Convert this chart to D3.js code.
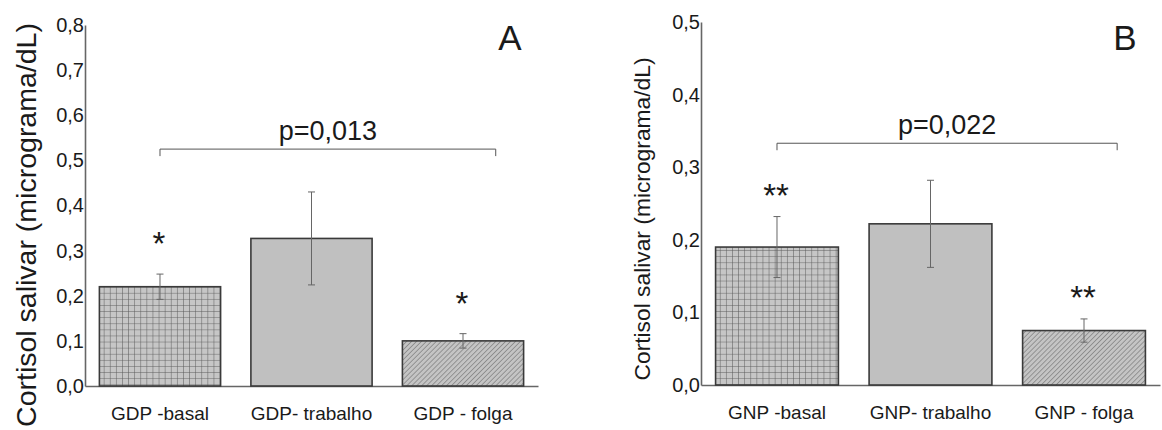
<!DOCTYPE html>
<html>
<head>
<meta charset="utf-8">
<script src="https://cdn.jsdelivr.net/npm/d3@7"></script>
<style>
  body { margin: 0; background: #fff; }
  text { font-family: "Liberation Sans", Arial, sans-serif; fill: #1a1a1a; }
</style>
</head>
<body>
<div id="chart"></div>
<script>
// data
let categoriesA = ["GDP -basal", "GDP- trabalho", "GDP - folga"];
let meansA = [0.22, 0.327, 0.10];
let errorsA = [0.028, 0.103, 0.016];
let starsA = ["*", "", "*"];
let ticksA = [0, 0.1, 0.2, 0.3, 0.4, 0.5, 0.6, 0.7, 0.8];
let pTextA = "p=0,013";
let bracketA = 0.525;

let categoriesB = ["GNP -basal", "GNP- trabalho", "GNP - folga"];
let meansB = [0.19, 0.222, 0.075];
let errorsB = [0.042, 0.06, 0.016];
let starsB = ["**", "", "**"];
let ticksB = [0, 0.1, 0.2, 0.3, 0.4, 0.5];
let pTextB = "p=0,022";
let bracketB = 0.333;

let patterns = ["grid", "solid", "hatch"];

let width = 1162;
let height = 430;

let svg = d3.select("#chart").append("svg")
  .attr("width", width)
  .attr("height", height);

// fill patterns
let defs = svg.append("defs");
let grid = defs.append("pattern")
  .attr("id", "grid")
  .attr("patternUnits", "userSpaceOnUse")
  .attr("width", 6.1)
  .attr("height", 6.1);
grid.append("rect").attr("width", 6.1).attr("height", 6.1).attr("fill", "#c6c6c6");
grid.append("path").attr("d", "M0,0 H6.1 M0,0 V6.1")
  .attr("stroke", "#5a5a5a").attr("stroke-width", 1);

let hatch = defs.append("pattern")
  .attr("id", "hatch")
  .attr("patternUnits", "userSpaceOnUse")
  .attr("width", 3.5)
  .attr("height", 3.5)
  .attr("patternTransform", "rotate(45)");
hatch.append("rect").attr("width", 3.5).attr("height", 3.5).attr("fill", "#c4c4c4");
hatch.append("line").attr("x1", 0).attr("y1", 0).attr("x2", 0).attr("y2", 3.5)
  .attr("stroke", "#6a6a6a").attr("stroke-width", 1.1);

function fillFor(p) {
  if (p === "grid") return "url(#grid)";
  if (p === "hatch") return "url(#hatch)";
  return "#c0c0c0";
}

function drawPanel(cfg) {
  let g = svg.append("g");

  let x = d3.scaleBand()
    .domain(cfg.categories)
    .range([cfg.x0, cfg.x1])
    .paddingInner(0.2)
    .paddingOuter(0.095);

  let y = d3.scaleLinear()
    .domain([0, d3.max(cfg.ticks)])
    .range([cfg.y0, cfg.y1]);

  let rows = cfg.categories.map(function(c, i) {
    return { cat: c, mean: cfg.means[i], err: cfg.errors[i], star: cfg.stars[i], pat: patterns[i] };
  });

  // y axis
  let yAxis = d3.axisLeft(y)
    .tickValues(cfg.ticks)
    .tickSize(0)
    .tickPadding(1)
    .tickFormat(function(d) { return d3.format(".1f")(d).replace(".", ","); });

  let ya = g.append("g")
    .attr("transform", "translate(" + cfg.x0 + ",0)")
    .call(yAxis);
  ya.select(".domain").attr("stroke", "#666").attr("stroke-width", 1.6);
  ya.selectAll("text")
    .style("font-size", "20px")
    .style("font-family", "'Liberation Sans', Arial, sans-serif")
    .attr("fill", "#1a1a1a");

  // x axis
  let xAxis = d3.axisBottom(x).tickSize(0).tickPadding(21);
  let xa = g.append("g")
    .attr("transform", "translate(0," + cfg.y0 + ")")
    .call(xAxis);
  xa.select(".domain").attr("stroke", "#666").attr("stroke-width", 1.6);
  xa.selectAll("text")
    .style("font-size", "19px")
    .style("font-family", "'Liberation Sans', Arial, sans-serif")
    .attr("fill", "#1a1a1a");

  // bars
  g.selectAll(".bar")
    .data(rows)
    .enter().append("rect")
    .attr("class", "bar")
    .attr("x", function(d) { return x(d.cat); })
    .attr("y", function(d) { return y(d.mean); })
    .attr("width", x.bandwidth())
    .attr("height", function(d) { return cfg.y0 - y(d.mean); })
    .attr("fill", function(d) { return fillFor(d.pat); })
    .attr("stroke", "#3a3a3a")
    .attr("stroke-width", 1.6);

  // error bars
  let eb = g.selectAll(".err")
    .data(rows)
    .enter().append("g")
    .attr("class", "err")
    .attr("stroke", "#666")
    .attr("stroke-width", 1);
  eb.append("line")
    .attr("x1", function(d) { return x(d.cat) + x.bandwidth() / 2; })
    .attr("x2", function(d) { return x(d.cat) + x.bandwidth() / 2; })
    .attr("y1", function(d) { return y(d.mean + d.err); })
    .attr("y2", function(d) { return y(d.mean - d.err); });
  eb.append("line")
    .attr("x1", function(d) { return x(d.cat) + x.bandwidth() / 2 - 3.5; })
    .attr("x2", function(d) { return x(d.cat) + x.bandwidth() / 2 + 3.5; })
    .attr("y1", function(d) { return y(d.mean + d.err); })
    .attr("y2", function(d) { return y(d.mean + d.err); });
  eb.append("line")
    .attr("x1", function(d) { return x(d.cat) + x.bandwidth() / 2 - 3.5; })
    .attr("x2", function(d) { return x(d.cat) + x.bandwidth() / 2 + 3.5; })
    .attr("y1", function(d) { return y(d.mean - d.err); })
    .attr("y2", function(d) { return y(d.mean - d.err); });

  // significance stars
  g.selectAll(".star")
    .data(rows)
    .enter().append("text")
    .attr("class", "star")
    .attr("x", function(d) { return x(d.cat) + x.bandwidth() / 2 - 1; })
    .attr("y", function(d) { return y(d.mean + d.err) - cfg.starGap + 18; })
    .attr("text-anchor", "middle")
    .style("font-size", "33px")
    .text(function(d) { return d.star; });

  // bracket with p value
  let bx1 = x(cfg.categories[0]) + x.bandwidth() / 2;
  let bx2 = x(cfg.categories[2]) + x.bandwidth() * 0.77;
  let by = y(cfg.bracket);
  g.append("path")
    .attr("d", "M" + bx1 + "," + (by + 7) + " V" + by + " H" + bx2 + " V" + (by + 7))
    .attr("fill", "none")
    .attr("stroke", "#555")
    .attr("stroke-width", 1);
  g.append("text")
    .attr("x", (bx1 + bx2) / 2)
    .attr("y", by - 9)
    .attr("text-anchor", "middle")
    .style("font-size", "27px")
    .text(cfg.pText);

  // panel letter
  g.append("text")
    .attr("x", cfg.letterX)
    .attr("y", 50)
    .attr("text-anchor", "middle")
    .style("font-size", "35px")
    .text(cfg.letter);

  // y title
  g.append("text")
    .attr("transform", "translate(" + cfg.titleX + "," + cfg.titleY + ") rotate(-90)")
    .attr("text-anchor", "middle")
    .style("font-size", cfg.titleSize + "px")
    .text("Cortisol salivar (micrograma/dL)");
}

drawPanel({
  categories: categoriesA, means: meansA, errors: errorsA, stars: starsA,
  ticks: ticksA, pText: pTextA, bracket: bracketA, letter: "A",
  x0: 85, x1: 538, y0: 386, y1: 25,
  starGap: 37, letterX: 510,
  titleX: 36, titleY: 225, titleSize: 28.5
});

drawPanel({
  categories: categoriesB, means: meansB, errors: errorsB, stars: starsB,
  ticks: ticksB, pText: pTextB, bracket: bracketB, letter: "B",
  x0: 701, x1: 1160, y0: 385, y1: 22,
  starGap: 28, letterX: 1125,
  titleX: 650, titleY: 219, titleSize: 22.8
});
</script>
</body>
</html>
